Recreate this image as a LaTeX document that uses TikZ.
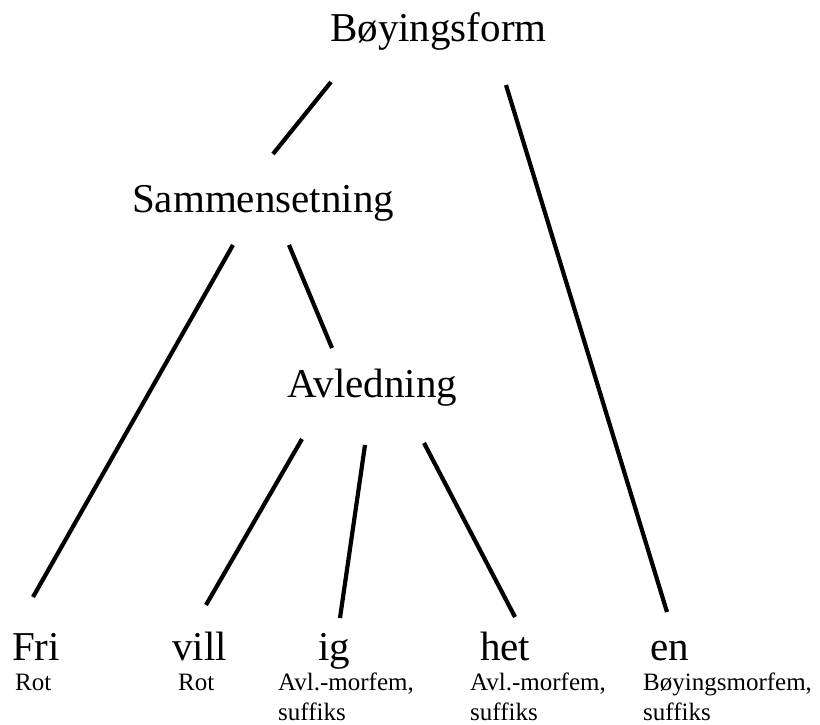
\documentclass[tikz,border=0pt]{standalone}
\usepackage{fontspec}
\setmainfont{Liberation Serif}
\tikzset{
  word/.style={anchor=base west, inner sep=0, font=\fontsize{41}{48}\selectfont},
  gloss/.style={anchor=base west, inner sep=0, align=left, font=\fontsize{25}{30}\selectfont},
  branch/.style={line width=4.2pt}
}
\begin{document}
\begin{tikzpicture}[x=1pt, y=-1pt]
  \useasboundingbox (0,0) rectangle (820,725);

  \node[word] (B) at (330,42) {Bøyingsform};
  \node[word] (S) at (132,212) {Sammensetning};
  \node[word] (A) at (287,397) {Avledning};

  \node[word] (F) at (12,660) {Fri};
  \node[word] (V) at (172,660) {vill};
  \node[word] (I) at (318,660) {ig};
  \node[word] (H) at (480,660) {het};
  \node[word] (E) at (650,660) {en};

  % two-line glosses sit on the baseline of their last line
  \node[gloss] (FR) at (15,690) {Rot};
  \node[gloss] (VR) at (178,690) {Rot};
  \node[gloss] (IR) at (278,720) {Avl.-morfem,\\suffiks};
  \node[gloss] (HR) at (470,720) {Avl.-morfem,\\suffiks};
  \node[gloss] (ER) at (643,720) {Bøyingsmorfem,\\suffiks};

  \draw[branch] ([shift={(1,40)}]B.base west) -- ([shift={(141,-58)}]S.base west);
  \draw[branch] ([shift={(176,43)}]B.base west) -- ([shift={(17,-48)}]E.base west);

  \draw[branch] ([shift={(101,33)}]S.base west) -- ([shift={(21,-63)}]F.base west);
  \draw[branch] ([shift={(157,33)}]S.base west) -- ([shift={(45,-49)}]A.base west);

  \draw[branch] ([shift={(15,42)}]A.base west) -- ([shift={(34,-55)}]V.base west);
  \draw[branch] ([shift={(78,48)}]A.base west) -- ([shift={(22,-42)}]I.base west);
  \draw[branch] ([shift={(137,46)}]A.base west) -- ([shift={(35,-43)}]H.base west);

\end{tikzpicture}
\end{document}
